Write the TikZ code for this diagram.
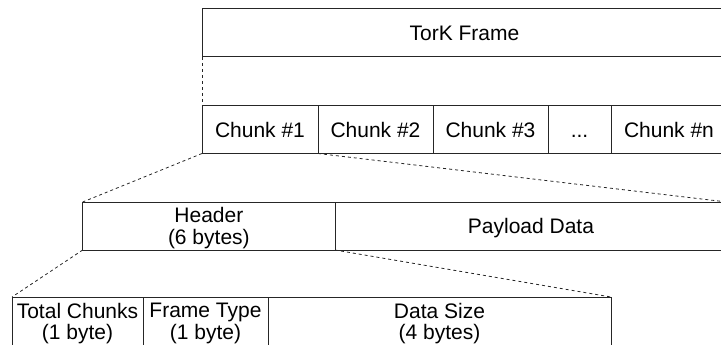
\documentclass[tikz,border=0pt]{standalone}
\usepackage{fontspec}
\setmainfont{Liberation Sans}
\begin{document}
\begin{tikzpicture}[x=1pt,y=-1pt,
  box/.style={draw=black!85, line width=1pt, inner sep=0pt, outer sep=0pt,
    anchor=north west, font=\fontsize{21pt}{21.5pt}\selectfont, text=black},
  one/.style={box, text height=15pt, text depth=0pt},
  two/.style={box, align=center, text depth=0pt},
  zoomline/.style={draw=black!85, line width=0.8pt, dash pattern=on 3pt off 3pt}]
\useasboundingbox (0,0) rectangle (721,345);
\clip (0,0) rectangle (721,345);

% frame level
\node[one, minimum width=525pt, minimum height=48pt] (frame) at (202,9) {TorK Frame};
\node[one, minimum width=116pt, minimum height=47.5pt] (c1) at (202,106) {Chunk \#1};
\node[one, minimum width=115pt, minimum height=47.5pt] (c2) at (318,106) {Chunk \#2};
\node[one, minimum width=115pt, minimum height=47.5pt] (c3) at (433,106) {Chunk \#3};
\node[one, minimum width=63pt, minimum height=47.5pt] (cdots) at (548,106) {...};
\node[one, minimum width=116pt, minimum height=47.5pt] (cn) at (611,106) {Chunk \#n};

% chunk level
\node[two, minimum width=252.3pt, minimum height=48pt] (hdr) at (82.7,202) {Header\\(6 bytes)};
\node[one, minimum width=392pt, minimum height=48pt] (pay) at (335,202) {Payload Data};

% header level
\node[two, minimum width=131pt, minimum height=49pt] (tc) at (12,297) {Total Chunks\\(1 byte)};
\node[two, minimum width=125pt, minimum height=49pt] (ft) at (143,297) {Frame Type\\(1 byte)};
\node[two, minimum width=343pt, minimum height=49pt] (ds) at (268,297) {Data Size\\(4 bytes)};

% expansion guides
\draw[zoomline] (frame.south west) -- (c1.north west);
\draw[zoomline] (c1.south west) -- (hdr.north west);
\draw[zoomline] (c1.south east) -- (pay.north east);
\draw[zoomline] (hdr.south west) -- (tc.north west);
\draw[zoomline] (hdr.south east) -- (ds.north east);
\end{tikzpicture}
\end{document}
